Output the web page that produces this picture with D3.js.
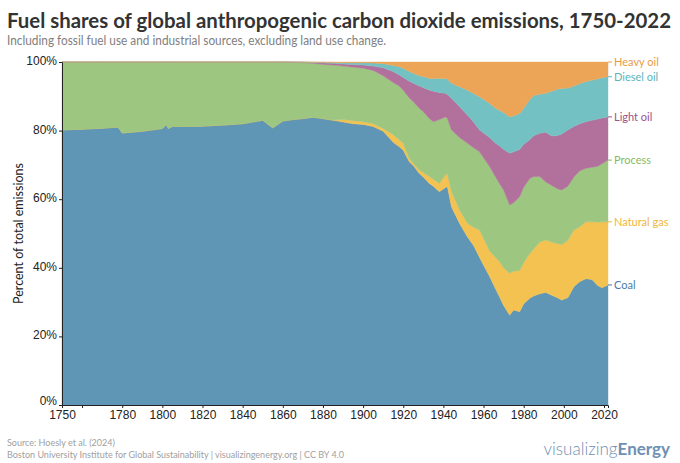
<!DOCTYPE html>
<html>
<head>
<meta charset="utf-8">
<script src="https://cdn.jsdelivr.net/npm/d3@7"></script>
<style>
  body { margin: 0; background: #fff; }
  svg { display: block; font-family: Lato, "Open Sans", sans-serif; }
  .axis text { font-size: 12px; fill: #222; }
  .axis path, .axis line { stroke: #222; }
</style>
</head>
<body>
<svg id="chart" width="680" height="463"></svg>
<script>
// years
const years = [1750,1760,1770,1778,1780,1790,1800,1802,1803,1805,1810,1820,1830,1840,1845,1850,1855,1860,1865,1870,1875,1880,1885,1890,1895,1900,1905,1910,1915,1918,1920,1923,1925,1928,1930,1933,1935,1938,1941,1942,1944,1948,1952,1955,1958,1963,1966,1968,1970,1973,1975,1978,1980,1983,1985,1988,1991,1994,1997,1999,2002,2005,2008,2011,2014,2017,2019,2022];

// shares in percent
const coal = [80.2,80.4,80.7,81.0,79.3,79.8,80.6,81.8,80.6,81.2,81.2,81.3,81.6,82.0,82.5,83.0,80.8,82.8,83.2,83.5,83.9,83.5,83.0,82.5,82.0,81.8,81.2,79.8,76.6,75.3,74.3,70.9,69.8,67.5,66.5,64.6,63.8,62.2,63.4,63.6,57.8,53.0,49.0,46.5,43.0,37.5,33.8,31.5,29.0,26.2,27.7,27.2,29.5,31.1,31.8,32.4,32.8,32.0,31.2,30.6,31.3,34.5,36.0,36.8,36.6,34.8,34.2,35.0];
const gas = [0,0,0,0,0,0,0,0,0,0,0,0,0,0,0,0,0,0,0,0,0,0,0.1,0.7,0.9,0.8,0.8,0.8,2.2,2.0,2.0,1.0,0.7,1.0,1.3,2.0,2.0,2.4,3.7,3.7,4.5,3.9,4.0,5.3,8.0,7.5,9.2,10.3,11.0,12.2,11.3,12.0,12.0,13.1,13.7,15.1,15.3,15.5,15.8,16.2,16.7,16.5,16.0,16.6,16.8,18.5,19.2,18.4];
const process = [19.8,19.6,19.3,19.0,20.7,20.2,19.4,18.2,19.4,18.8,18.8,18.7,18.4,18.0,17.5,17.0,19.2,17.2,16.7,16.3,15.7,15.8,16.0,15.6,15.6,15.6,15.5,15.4,15.2,15.7,15.5,17.6,17.9,18.0,17.7,16.9,16.8,18.6,16.9,16.2,17.9,21.1,23.3,23.2,22.8,24.5,23.5,22.7,22.7,19.9,20.0,21.5,22.0,21.8,21.1,19.1,16.9,16.5,16.0,15.9,15.8,15.5,16.3,15.6,15.9,16.3,16.9,18.0];
const lightOil = [0,0,0,0,0,0,0,0,0,0,0,0,0,0,0,0,0,0,0.1,0.15,0.2,0.4,0.5,0.6,0.8,0.9,1.3,2.3,3.2,3.2,3.7,4.9,5.4,6.5,7.0,8.3,8.9,7.8,6.9,7.0,9.2,9.0,8.2,7.5,6.4,8.5,9.8,11.0,11.8,15.1,14.8,13.8,12.5,11.3,11.9,12.6,14.5,14.4,15.6,16.3,16.4,14.7,13.7,13.6,13.7,13.8,13.4,12.6];
const dieselOil = [0,0,0,0,0,0,0,0,0,0,0,0,0,0,0,0,0,0,0,0.05,0.15,0.2,0.25,0.4,0.5,0.7,0.9,1.2,1.8,2.4,2.7,2.8,2.9,3.0,3.3,3.4,3.7,4.2,4.3,4.5,4.4,5.8,7.3,8.3,9.7,10.0,10.2,10.4,10.8,10.6,10.5,10.5,10.5,11.7,11.7,11.4,11.4,13.1,13.5,13.3,12.2,11.8,11.7,11.7,11.7,11.7,11.7,11.7];
const heavyOil = [0,0,0,0,0,0,0,0,0,0,0,0,0,0,0,0,0,0,0,0,0.05,0.1,0.15,0.2,0.2,0.2,0.3,0.5,1.0,1.4,1.8,2.8,3.3,4.0,4.2,4.8,4.8,4.8,4.8,5.0,6.2,7.2,8.2,9.2,10.1,12.0,13.5,14.1,14.7,16.0,15.7,15.0,13.5,11.0,9.8,9.4,9.1,8.5,7.9,7.7,7.6,7.0,6.3,5.7,5.3,4.9,4.6,4.3];

const fuels = ["Coal","Natural gas","Process","Light oil","Diesel oil","Heavy oil"];
const fills = ["#6096b5","#f3c250","#9dc680","#b2709c","#74c1c3","#eca556"];
const labelColors = ["#4a7ba6","#efb53c","#86bb64","#9c5188","#5cb6ba","#e99b45"];
const xTicks = [1750,1760,1780,1800,1820,1840,1860,1880,1900,1920,1940,1960,1980,2000,2020];
const yTicks = [0,0.2,0.4,0.6,0.8,1];

const table = years.map((y, i) => ({
    year: y,
    "Coal": coal[i],
    "Natural gas": gas[i],
    "Process": process[i],
    "Light oil": lightOil[i],
    "Diesel oil": dieselOil[i],
    "Heavy oil": heavyOil[i]
}));

const svg = d3.select("#chart");
const m = {left: 62, right: 608, top: 62, bottom: 405};

const x = d3.scaleLinear().domain([1750, 2022]).range([m.left, m.right]);
const y = d3.scaleLinear().domain([0, 1]).range([m.bottom, m.top]);
const color = d3.scaleOrdinal().domain(fuels).range(fills);

const series = d3.stack()
    .keys(fuels)
    .offset(d3.stackOffsetExpand)(table);

const area = d3.area()
    .x(d => x(d.data.year))
    .y0(d => y(d[0]))
    .y1(d => y(d[1]));

svg.append("g")
    .selectAll("path")
    .data(series)
    .join("path")
    .attr("fill", d => color(d.key))
    .attr("stroke", d => color(d.key))
    .attr("stroke-width", 0.4)
    .attr("d", area);

// axes
svg.append("g")
    .attr("class", "axis")
    .attr("transform", `translate(0,${m.bottom})`)
    .call(d3.axisBottom(x)
        .tickValues(xTicks)
        .tickFormat(d => d == 1760 ? "" : d)
        .tickSize(3)
        .tickPadding(2));

svg.append("g")
    .attr("class", "axis")
    .attr("transform", `translate(${m.left},0)`)
    .call(d3.axisLeft(y)
        .tickValues(yTicks)
        .tickFormat(d3.format(".0%"))
        .tickSize(3)
        .tickPadding(2))
    .call(g => g.selectAll(".tick text").attr("dy", d => d == 0 ? "-0.05em" : "0.2em"));

// end labels
const last = series.map(s => s[s.length - 1]);
const lbl = svg.append("g")
    .selectAll("g")
    .data(last)
    .join("g")
    .attr("transform", d => `translate(${m.right},${y(d[1])})`);
lbl.append("line")
    .attr("x1", 0).attr("x2", 4)
    .attr("stroke", (d, i) => labelColors[i]);
lbl.append("text")
    .attr("x", 6)
    .attr("dy", "0.35em")
    .attr("font-size", 11)
    .attr("fill", (d, i) => labelColors[i])
    .text((d, i) => fuels[i]);

// titles
svg.append("text")
    .attr("x", 7).attr("y", 28)
    .attr("font-size", 20)
    .attr("font-weight", 700)
    .attr("fill", "#333")
    .attr("textLength", 664)
    .attr("lengthAdjust", "spacingAndGlyphs")
    .text("Fuel shares of global anthropogenic carbon dioxide emissions, 1750-2022");

svg.append("text")
    .attr("x", 7).attr("y", 45)
    .attr("font-size", 12.5)
    .attr("fill", "#808080")
    .attr("textLength", 379)
    .attr("lengthAdjust", "spacingAndGlyphs")
    .text("Including fossil fuel use and industrial sources, excluding land use change.");

svg.append("text")
    .attr("transform", `translate(23,${(m.top + m.bottom) / 2}) rotate(-90)`)
    .attr("text-anchor", "middle")
    .attr("font-size", 12.5)
    .attr("fill", "#222")
    .text("Percent of total emissions");

// footer
svg.append("text")
    .attr("x", 7).attr("y", 446)
    .attr("font-size", 9)
    .attr("fill", "#a0a0a0")
    .text("Source: Hoesly et al. (2024)");
svg.append("text")
    .attr("x", 7).attr("y", 458)
    .attr("font-size", 9)
    .attr("fill", "#a0a0a0")
    .text("Boston University Institute for Global Sustainability | visualizingenergy.org | CC BY 4.0");

const logo = svg.append("text")
    .attr("x", 670).attr("y", 455)
    .attr("text-anchor", "end")
    .attr("font-size", 17)
    .attr("fill", "#6f8fb3");
logo.append("tspan").attr("font-weight", 300).text("visualizing");
logo.append("tspan").attr("font-weight", 700).text("Energy");
</script>
</body>
</html>
